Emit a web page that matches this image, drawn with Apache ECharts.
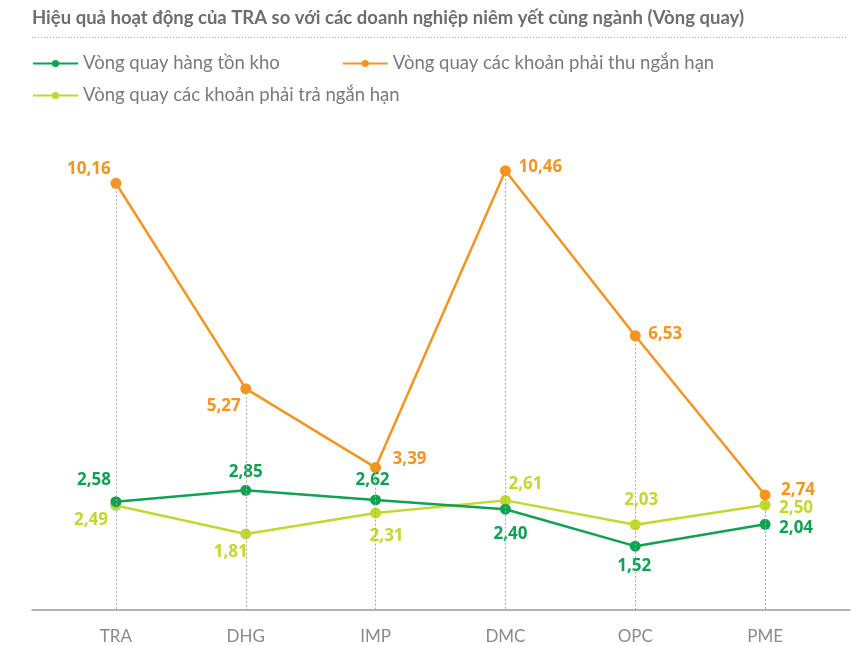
<!DOCTYPE html>
<html>
<head>
<meta charset="utf-8">
<script src="https://cdn.jsdelivr.net/npm/echarts@6/dist/echarts.min.js"></script>
<style>
  html, body { margin: 0; padding: 0; background: #fff; }
  #chart { width: 858px; height: 645px; }
</style>
</head>
<body>
<div id="chart"></div>
<script>
// data
const categories = ['TRA', 'DHG', 'IMP', 'DMC', 'OPC', 'PME'];
const inventoryTurns = [2.58, 2.85, 2.62, 2.40, 1.52, 2.04];
const receivableTurns = [10.16, 5.27, 3.39, 10.46, 6.53, 2.74];
const payableTurns = [2.49, 1.81, 2.31, 2.61, 2.03, 2.50];
const seriesNames = [
  'Vòng quay hàng tồn kho',
  'Vòng quay các khoản phải thu ngắn hạn',
  'Vòng quay các khoản phải trả ngắn hạn'
];

// label offsets (px from the point) so labels don't collide
const greenOffsets = [[-22, -21], [0, -18], [-3, -20], [5, 25], [-1, 20], [31, 4]];
const orangeOffsets = [[-27, -14], [-22, 17], [34, -8], [35, -4], [30, -2], [33, -5]];
const limeOffsets = [[-25, 15], [-15, 18], [11, 23], [20, -16], [6, -25], [31, 3]];

const GREEN = '#0fa253';
const ORANGE = '#f7941d';
const LIME = '#c3d82f';

const fmt = v => v.toFixed(2).replace('.', ',');

function lineSeries(name, values, offsets, color, z) {
  return {
    name: name,
    type: 'line',
    data: values.map((v, i) => ({ value: v, label: { offset: offsets[i] } })),
    symbol: 'circle',
    symbolSize: 11,
    z: z,
    lineStyle: { color: color, width: 2.5 },
    itemStyle: { color: color },
    label: {
      show: true,
      position: 'inside',
      color: color,
      fontFamily: 'Open Sans',
      fontWeight: 'bold',
      fontSize: 17,
      formatter: p => fmt(p.value)
    }
  };
}

// vertical dotted drop lines from the top point of each category
const dropLines = categories.map((c, i) => {
  const top = Math.max(inventoryTurns[i], receivableTurns[i], payableTurns[i]);
  return [{ coord: [c, top] }, { coord: [c, 0] }];
});

const legendText = { fontFamily: 'Lato', fontSize: 18.5, color: '#7a7a7a' };

const chart = echarts.init(document.getElementById('chart'));
chart.setOption({
  animation: false,
  title: {
    text: 'Hiệu quả hoạt động của TRA so với các doanh nghiệp niêm yết cùng ngành (Vòng quay)',
    left: 32,
    top: 9,
    padding: 0,
    textStyle: { fontFamily: 'Lato', fontWeight: 'bold', fontSize: 18.5, color: '#6d6e71' }
  },
  graphic: [{
    type: 'line',
    shape: { x1: 32, y1: 37.5, x2: 847, y2: 37.5 },
    style: { stroke: '#b0b0b0', lineWidth: 1, lineDash: [1, 2] }
  }],
  legend: [{
    data: [seriesNames[0], seriesNames[1]],
    left: 32,
    top: 54,
    padding: 0,
    itemWidth: 45,
    itemHeight: 9,
    itemGap: 62,
    textStyle: legendText
  }, {
    data: [seriesNames[2]],
    left: 32,
    top: 86,
    padding: 0,
    itemWidth: 45,
    itemHeight: 9,
    textStyle: legendText
  }],
  grid: [
    { left: 51, right: 28, top: 106, bottom: 35 },
    { left: 32, right: 8, top: 106, bottom: 35 }
  ],
  xAxis: [{
    type: 'category',
    gridIndex: 0,
    data: categories,
    axisLine: { show: false },
    axisTick: { show: false },
    axisLabel: { fontFamily: 'Lato', fontSize: 17, color: '#8a8a8a', margin: 18 }
  }, {
    type: 'value',
    gridIndex: 1,
    min: 0,
    max: 1,
    axisLine: { show: true, onZero: false, lineStyle: { color: '#9a9a9a', width: 1.5 } },
    axisTick: { show: false },
    axisLabel: { show: false },
    splitLine: { show: false }
  }],
  yAxis: [{
    type: 'value',
    gridIndex: 0,
    min: 0,
    max: 12,
    show: false
  }, {
    type: 'value',
    gridIndex: 1,
    min: 0,
    max: 1,
    show: false
  }],
  series: [
    {
      type: 'line',
      data: [],
      z: 1,
      silent: true,
      markLine: {
        symbol: 'none',
        silent: true,
        label: { show: false },
        lineStyle: { color: '#a8a8a8', width: 1, type: [2, 2] },
        data: dropLines
      }
    },
    lineSeries(seriesNames[0], inventoryTurns, greenOffsets, GREEN, 4),
    lineSeries(seriesNames[1], receivableTurns, orangeOffsets, ORANGE, 3),
    lineSeries(seriesNames[2], payableTurns, limeOffsets, LIME, 2)
  ]
});
</script>
</body>
</html>
